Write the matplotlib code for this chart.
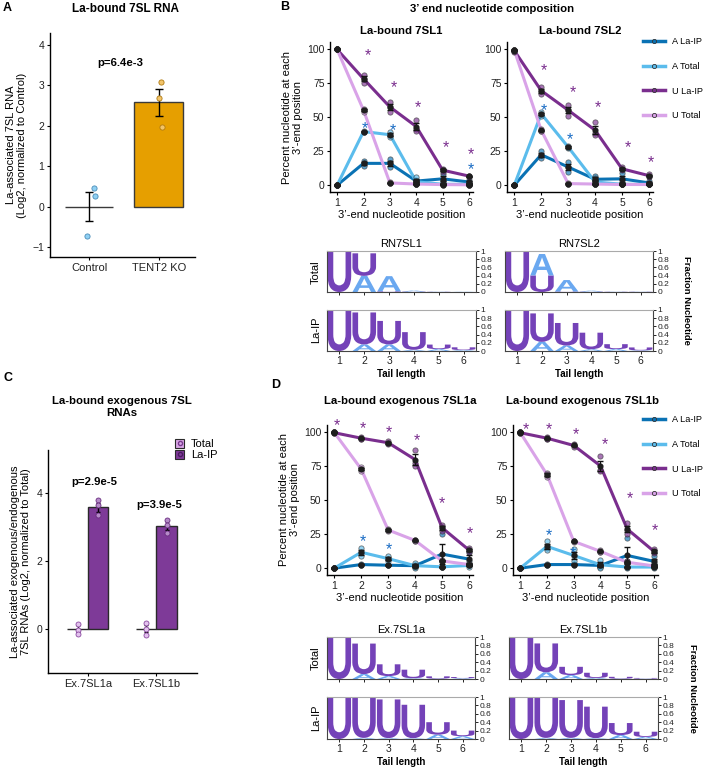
import matplotlib
matplotlib.use('Agg')
import matplotlib.pyplot as plt
import numpy as np
from matplotlib.textpath import TextPath
from matplotlib.patches import PathPatch, Patch
from matplotlib.font_manager import FontProperties
from matplotlib.transforms import Affine2D
from matplotlib.lines import Line2D

plt.rcParams['font.family'] = ['Liberation Sans', 'DejaVu Sans']

W, H = 705, 770

# ---------------- data ----------------
# panel A
a_groups = ['Control', 'TENT2 KO']
a_means = [0.0, 2.58]
a_err = [0.37, 0.33]
a_points = [[0.45, 0.27, -0.72], [3.08, 2.68, 1.97]]
a_jitter = [[0.07, 0.09, -0.03], [0.03, 0.01, 0.04]]
a_pval = 'p=6.4e-3'

# panel C
c_groups = ['Ex.7SL1a', 'Ex.7SL1b']
c_total_means = [0.0, 0.0]
c_total_err = [0.1, 0.1]
c_laip_means = [3.57, 3.03]
c_laip_err = [0.13, 0.12]
c_total_points = [[0.15, -0.03, -0.15], [0.17, 0.0, -0.17]]
c_laip_points = [[3.78, 3.62, 3.33], [3.2, 3.06, 2.8]]
c_pvals = ['p=2.9e-5', 'p=3.9e-5']

# panels B / D : replicates (percent) at 3'-end positions 1..6
positions = [1, 2, 3, 4, 5, 6]
series_labels = ['A La-IP', 'A Total', 'U La-IP', 'U Total']

sl1_a_laip = [[0, 0, 0], [18, 16, 14], [19, 16, 13], [4, 3, 2], [8, 4, 2], [4, 2, 1]]
sl1_a_total = [[0, 0, 0], [40, 39, 39], [39, 37, 35], [6, 1, 0.5], [1, 0.5, 0.5], [1, 0.5, 0.5]]
sl1_u_laip = [[99.5, 99.5, 99.5], [81, 78, 75], [61, 57, 54], [48, 41, 40], [12, 11, 10], [7, 7, 6]]
sl1_u_total = [[99.5, 99.5, 99.5], [56, 55, 54], [2, 1.5, 1.5], [1, 1, 0.5], [0.5, 0.5, 0.3], [0.3, 0.3, 0.3]]

sl2_a_laip = [[0, 0, 0], [25, 22, 20], [17, 13, 10], [7, 4, 2], [9, 4, 1], [3, 1, 1]]
sl2_a_total = [[0, 0, 0], [54, 52, 51], [29, 28, 27], [5, 1, 1], [1, 0.5, 0.5], [1, 0.5, 0.5]]
sl2_u_laip = [[99, 99, 98], [72, 69, 67], [59, 55, 51], [46, 38, 37], [13, 12, 11], [8, 7, 6]]
sl2_u_total = [[99, 99, 99], [41, 40, 40], [1.5, 1, 1], [1, 1, 0.5], [0.5, 0.5, 0.5], [0.5, 0.5, 0.5]]

ex1a_a_laip = [[0, 0, 0], [3, 2.5, 2.5], [2.5, 2, 2], [2.5, 2, 1], [25, 5, 1], [12, 5, 3]]
ex1a_a_total = [[0, 0, 0], [15, 11, 9], [9, 7, 5], [4, 1, 0.5], [1, 1, 1], [3, 2, 1]]
ex1a_u_laip = [[99.5, 99.5, 99], [96, 95, 95], [93, 92, 91], [87, 77, 75], [32, 30, 27], [15, 13, 12]]
ex1a_u_total = [[99.5, 99.5, 99.5], [74, 73, 71], [29, 28, 27], [21, 20, 20], [6, 5, 5], [3, 3, 2]]

ex1b_a_laip = [[0, 0, 0], [3, 2.5, 2.5], [3, 3, 2], [3, 2, 1], [22, 5, 1], [9, 4, 2]]
ex1b_a_total = [[0, 0, 0], [20, 15, 13], [14, 9, 5], [6, 1, 0.5], [1, 1, 0.5], [1, 1, 0.5]]
ex1b_u_laip = [[99.5, 99.5, 99], [96, 95, 95], [91, 90, 89], [82, 72, 71], [33, 28, 25], [14, 12, 11]]
ex1b_u_total = [[99.5, 99.5, 99.5], [70, 69, 67], [20, 20, 19], [13, 12, 12], [5, 4, 4], [2, 2, 1]]

# significance stars (x, y)
sl1_stars_u = [(2.15, 98), (3.15, 75), (4.07, 60), (5.13, 31), (6.07, 26)]
sl1_stars_a = [(2.06, 45), (3.12, 43), (6.07, 15)]
sl2_stars_u = [(2.09, 87), (3.18, 71), (4.1, 60), (5.2, 31), (6.08, 20)]
sl2_stars_a = [(2.09, 58), (3.07, 37)]
ex1a_stars_u = [(1.11, 108), (2.07, 106), (3.04, 103), (4.07, 97), (5.0, 51), (6.04, 29)]
ex1a_stars_a = [(2.07, 23), (3.04, 17)]
ex1b_stars_u = [(1.2, 105), (2.08, 105), (3.09, 101), (4.17, 94), (5.1, 54), (6.04, 31)]
ex1b_stars_a = [(2.08, 27), (2.98, 14)]

# ---------------- style ----------------
C_A_LAIP = '#0a72b4'
C_A_TOTAL = '#5bbcec'
C_U_LAIP = '#7a2e8e'
C_U_TOTAL = '#d9a3e8'
C_STAR_U = '#7a2e8e'
C_STAR_A = '#1a6cc4'
LOGO_U = '#7442b8'
LOGO_A = '#6aa8f0'
series_colors = [C_A_LAIP, C_A_TOTAL, C_U_LAIP, C_U_TOTAL]

FS_TICK = 7.5
FS_LAB = 8
FS_TITLE = 8.2

fig = plt.figure(figsize=(W / 100, H / 100), dpi=100)


def px_axes(l, t, r, b):
    return fig.add_axes([l / W, 1 - b / H, (r - l) / W, (b - t) / H])


def ftext(x, y, s, **kw):
    fig.text(x / W, 1 - y / H, s, **kw)


def classic(ax, labelsize=FS_TICK):
    for s in ['top', 'right']:
        ax.spines[s].set_visible(False)
    for s in ['left', 'bottom']:
        ax.spines[s].set_linewidth(1.0)
    ax.tick_params(length=2.5, width=0.8, labelsize=labelsize, pad=1.5,
                   labelcolor='#222')


# ---------------- panel A ----------------
ax = px_axes(50, 33, 195, 257)
classic(ax)
xa = np.arange(len(a_groups))
ax.bar(xa, a_means, width=0.7, color=['#56b4e9', '#e69f00'],
       edgecolor='#3a3a3a', linewidth=1.0, zorder=2)
ax.errorbar(xa, a_means, yerr=a_err, fmt='none', ecolor='black',
            elinewidth=1.0, capsize=3, capthick=1.0, zorder=3)
for i in range(len(a_groups)):
    ax.scatter(xa[i] + np.array(a_jitter[i]), a_points[i], s=14,
               color=['#8fd0f3', '#f2c46a'][i],
               edgecolor=['#4a8cb8', '#b07a10'][i], linewidth=0.6, zorder=4)
ax.text(0.45, 3.55, a_pval, ha='center', va='center', fontsize=FS_TITLE,
        fontweight='bold')
ax.set_xlim(-0.56, 1.52)
ax.set_ylim(-1.25, 4.3)
ax.set_yticks([-1, 0, 1, 2, 3, 4])
ax.set_xticks(xa)
ax.set_xticklabels(a_groups, fontsize=FS_LAB)
ax.set_ylabel('La-associated 7SL RNA\n(Log2, normalized to Control)',
              fontsize=FS_LAB, labelpad=4, linespacing=1.1)
ftext(125, 9, 'La-bound 7SL RNA', ha='center', va='center',
      fontsize=8.5, fontweight='bold')
ftext(3, 8, 'A', ha='left', va='center', fontsize=9, fontweight='bold')

# ---------------- panel C ----------------
ax = px_axes(48, 450, 197, 673)
classic(ax)
xc = np.arange(len(c_groups))
ax.bar(xc - 0.15, c_total_means, width=0.3, color='#d9a6e6',
       edgecolor='#2a2a2a', linewidth=1.0, zorder=2)
ax.bar(xc + 0.15, c_laip_means, width=0.3, color='#7e3a98',
       edgecolor='#2a2a2a', linewidth=1.0, zorder=2)
ax.errorbar(xc - 0.15, c_total_means, yerr=c_total_err, fmt='none',
            ecolor='black', elinewidth=1.0, capsize=1.5, zorder=3)
ax.errorbar(xc + 0.15, c_laip_means, yerr=c_laip_err, fmt='none',
            ecolor='black', elinewidth=1.0, capsize=1.5, zorder=3)
for i in range(len(c_groups)):
    ax.scatter([xc[i] - 0.15] * 3, c_total_points[i], s=13, color='#e3c1ee',
               edgecolor='#8a4aa0', linewidth=0.6, zorder=4)
    ax.scatter([xc[i] + 0.15] * 3, c_laip_points[i], s=13, color='#b58bc8',
               edgecolor='#6a2d80', linewidth=0.6, zorder=4)
ax.text(0.1, 4.32, c_pvals[0], ha='center', va='center', fontsize=FS_TITLE,
        fontweight='bold')
ax.text(1.04, 3.62, c_pvals[1], ha='center', va='center', fontsize=FS_TITLE,
        fontweight='bold')
ax.set_xlim(-0.58, 1.59)
ax.set_ylim(-1.3, 5.25)
ax.set_yticks([0, 2, 4])
ax.set_xticks(xc)
ax.set_xticklabels(c_groups, fontsize=FS_LAB)
ax.set_ylabel('La-associated exogenous/endogenous\n7SL RNAs (Log2, normalized to Total)',
              fontsize=FS_LAB, labelpad=4, linespacing=1.1)
hc = [(Patch(fc='#d9a6e6', ec='#2a2a2a', lw=0.8),
       Line2D([], [], ls='none', marker='o', ms=3, mfc='none', mec='#7a3a90')),
      (Patch(fc='#7e3a98', ec='#2a2a2a', lw=0.8),
       Line2D([], [], ls='none', marker='o', ms=3, mfc='none', mec='#4a1a60'))]
fig.legend(hc, ['Total', 'La-IP'], loc='upper left', frameon=False,
           bbox_to_anchor=(175 / W, 1 - 439 / H),
           fontsize=8, handlelength=0.85, handleheight=0.9, handletextpad=0.6,
           labelspacing=0.05, borderpad=0, borderaxespad=0)
ftext(122, 407, 'La-bound exogenous 7SL\nRNAs', ha='center', va='center',
      fontsize=FS_TITLE, fontweight='bold', linespacing=1.35)
ftext(3, 378, 'C', ha='left', va='center', fontsize=9, fontweight='bold')


# ---------------- line panels ----------------
def line_panel(ax, reps_list, stars_u, stars_a, title, ylabel):
    classic(ax)
    for reps, col in zip(reps_list, series_colors):
        reps = np.array(reps, dtype=float)
        m = reps.mean(axis=1)
        se = reps.std(axis=1, ddof=1) / np.sqrt(reps.shape[1])
        ax.plot(positions, m, color=col, lw=2.2, zorder=2, solid_capstyle='round')
        for j, p in enumerate(positions):
            ax.plot([p] * reps.shape[1], reps[j], 'o', ms=3.8, mfc=col,
                    mec='#333333', mew=0.6, alpha=0.65, zorder=3)
        ax.errorbar(positions, m, yerr=se, fmt='none', ecolor='#111111',
                    elinewidth=0.9, capsize=2, zorder=4)
        ax.plot(positions, m, 'o', ms=3.4, color='#1e1e1e', zorder=5)
    for x, y in stars_u:
        ax.annotate('*', (x, y), xytext=(0, -6.5), textcoords='offset points',
                    ha='center', va='baseline', fontsize=11.5, color=C_STAR_U,
                    annotation_clip=False)
    for x, y in stars_a:
        ax.annotate('*', (x, y), xytext=(0, -6.5), textcoords='offset points',
                    ha='center', va='baseline', fontsize=11.5, color=C_STAR_A,
                    annotation_clip=False)
    ax.set_xlim(0.73, 6.15)
    ax.set_ylim(-5, 105)
    ax.set_xticks(positions)
    ax.set_yticks([0, 25, 50, 75, 100])
    ax.set_xlabel('3\u2019-end nucleotide position', fontsize=FS_LAB, labelpad=2)
    if ylabel:
        ax.set_ylabel('Percent nucleotide at each\n3\u2019-end position',
                      fontsize=FS_LAB, labelpad=3, linespacing=1.1)
    ax.set_title(title, fontsize=FS_TITLE, fontweight='bold', pad=6)


def series_legend(top_px):
    hs = [Line2D([], [], color=c, lw=2.5, marker='o', ms=3, mfc=c,
                 mec='#333333', mew=0.6) for c in series_colors]
    fig.legend(hs, series_labels, loc='upper left', frameon=False,
               bbox_to_anchor=(643 / W, 1 - top_px / H), fontsize=6.6,
               handlelength=2.4, handletextpad=0.8, labelspacing=1.72,
               borderpad=0, borderaxespad=0)


ax = px_axes(330, 42, 473, 192)
line_panel(ax, [sl1_a_laip, sl1_a_total, sl1_u_laip, sl1_u_total],
           sl1_stars_u, sl1_stars_a, 'La-bound 7SL1', True)
ax = px_axes(507, 42, 653, 192)
line_panel(ax, [sl2_a_laip, sl2_a_total, sl2_u_laip, sl2_u_total],
           sl2_stars_u, sl2_stars_a, 'La-bound 7SL2', False)
series_legend(37)

ax = px_axes(327, 425, 473, 575)
line_panel(ax, [ex1a_a_laip, ex1a_a_total, ex1a_u_laip, ex1a_u_total],
           ex1a_stars_u, ex1a_stars_a, '', True)
ax = px_axes(513, 425, 658, 575)
line_panel(ax, [ex1b_a_laip, ex1b_a_total, ex1b_u_laip, ex1b_u_total],
           ex1b_stars_u, ex1b_stars_a, '', False)
series_legend(415)

ftext(492, 9, '3\u2019 end nucleotide composition', ha='center', va='center',
      fontsize=FS_TITLE, fontweight='bold')
ftext(280, 7, 'B', ha='left', va='center', fontsize=9, fontweight='bold')
ftext(400, 401, 'La-bound exogenous 7SL1a', ha='center', va='center',
      fontsize=FS_TITLE, fontweight='bold')
ftext(583, 401, 'La-bound exogenous 7SL1b', ha='center', va='center',
      fontsize=FS_TITLE, fontweight='bold')
ftext(271, 385, 'D', ha='left', va='center', fontsize=9, fontweight='bold')

# ---------------- logos ----------------
logo_font = FontProperties(family='Liberation Sans', weight='bold')


def letter(ax, ch, x, y0, h, color):
    if h < 0.004:
        return
    tp = TextPath((0, 0), ch, size=1, prop=logo_font)
    bb = tp.get_extents()
    w = 0.95
    tr = (Affine2D().translate(-bb.x0, -bb.y0)
          .scale(w / bb.width, h / bb.height).translate(x - w / 2, y0))
    ax.add_patch(PathPatch(tr.transform_path(tp), fc=color, ec='none',
                           zorder=2))


def logo_panel(ax, u_reps, a_reps, bottom_labels):
    u = np.array(u_reps, dtype=float).mean(axis=1) / 100
    a = np.array(a_reps, dtype=float).mean(axis=1) / 100
    for j, p in enumerate(positions):
        stack = sorted([(a[j], 'A', LOGO_A), (u[j], 'U', LOGO_U)])
        y0 = 0
        for h, ch, col in stack:
            letter(ax, ch, p, y0, h, col)
            y0 += h
    ax.set_xlim(0.5, 6.5)
    ax.set_ylim(0, 1)
    for s in ax.spines.values():
        s.set_linewidth(0.8)
        s.set_color('#444444')
    ax.spines['top'].set_color('#aaaaaa')
    ax.yaxis.tick_right()
    ax.set_yticks([0, 0.2, 0.4, 0.6, 0.8, 1])
    ax.set_yticklabels(['0', '0.2', '0.4', '0.6', '0.8', '1'])
    ax.set_xticks(positions)
    ax.tick_params(axis='y', length=2, width=0.6, labelsize=6, pad=1,
                   labelcolor='#222')
    ax.tick_params(axis='x', length=2, width=0.6, labelsize=7.5, pad=1.5,
                   labelcolor='#222', labelbottom=bottom_labels)
    if bottom_labels:
        ax.set_xlabel('Tail length', fontsize=7, fontweight='bold',
                      labelpad=2)


for (l, r), tot_u, tot_a, ip_u, ip_a, name in [
        ((327, 476), sl1_u_total, sl1_a_total, sl1_u_laip, sl1_a_laip, 'RN7SL1'),
        ((505, 653), sl2_u_total, sl2_a_total, sl2_u_laip, sl2_a_laip, 'RN7SL2')]:
    ax = px_axes(l, 251, r, 292)
    logo_panel(ax, tot_u, tot_a, False)
    ax.set_title(name, fontsize=FS_LAB, pad=3)
    ax = px_axes(l, 310, r, 351)
    logo_panel(ax, ip_u, ip_a, True)

for (l, r), tot_u, tot_a, ip_u, ip_a, name in [
        ((327, 475), ex1a_u_total, ex1a_a_total, ex1a_u_laip, ex1a_a_laip, 'Ex.7SL1a'),
        ((509, 658), ex1b_u_total, ex1b_a_total, ex1b_u_laip, ex1b_a_laip, 'Ex.7SL1b')]:
    ax = px_axes(l, 637, r, 679)
    logo_panel(ax, tot_u, tot_a, False)
    ax.set_title(name, fontsize=FS_LAB, pad=3)
    ax = px_axes(l, 697, r, 739)
    logo_panel(ax, ip_u, ip_a, True)

for ytot, yip in [(272, 330), (658, 718)]:
    ftext(316, ytot, 'Total', rotation=90, ha='center', va='center',
          fontsize=FS_LAB)
    ftext(316, yip, 'La-IP', rotation=90, ha='center', va='center',
          fontsize=FS_LAB)
ftext(687, 300, 'Fraction Nucleotide', rotation=270, ha='center',
      va='center', fontsize=6.8, fontweight='bold')
ftext(692, 688, 'Fraction Nucleotide', rotation=270, ha='center',
      va='center', fontsize=6.8, fontweight='bold')

fig.savefig('out.png', dpi=100)
